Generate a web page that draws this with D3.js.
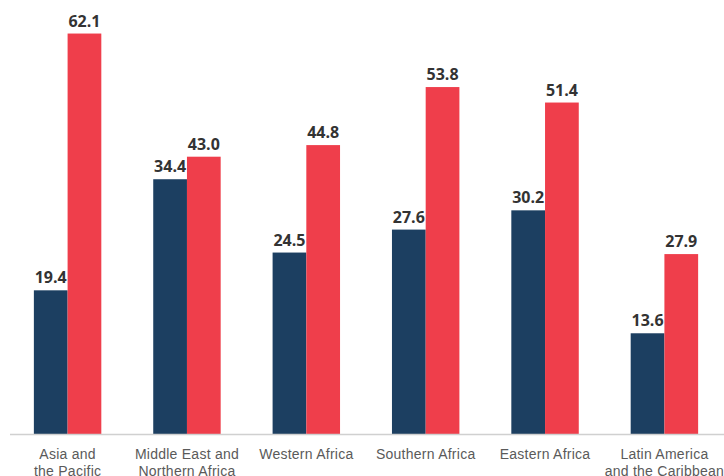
<!DOCTYPE html>
<html>
<head>
<meta charset="utf-8">
<script src="https://cdn.jsdelivr.net/npm/d3@7"></script>
<style>
  html, body { margin: 0; padding: 0; background: #fff; }
  svg { display: block; font-family: "Open Sans", sans-serif; }
</style>
</head>
<body>
<div id="chart"></div>
<script>
// data
const regions = [
  ["Asia and", "the Pacific"],
  ["Middle East and", "Northern Africa"],
  ["Western Africa"],
  ["Southern Africa"],
  ["Eastern Africa"],
  ["Latin America", "and the Caribbean"]
];
const seriesA = [19.4, 34.4, 24.5, 27.6, 30.2, 13.6];
const seriesB = [62.1, 43.0, 44.8, 53.8, 51.4, 27.9];

const width = 724;
const height = 476;
const baseY = 434;

const colorA = "#1c3f61";
const colorB = "#ef3e4b";

const svg = d3.select("#chart")
  .append("svg")
    .attr("width", width)
    .attr("height", height)
    .attr("viewBox", [0, 0, width, height]);

const keys = regions.map((d, i) => i);

const x = d3.scaleBand()
  .domain(keys)
  .range([10, 722])
  .paddingInner(0.435)
  .paddingOuter(0.2);

const xs = d3.scaleBand()
  .domain(["a", "b"])
  .range([0, x.bandwidth()]);

// the two series sit on separate (hidden) value axes
const yA = d3.scaleLinear().domain([0, 58.6]).range([baseY, 0]);
const yB = d3.scaleLinear().domain([0, 67.3]).range([baseY, 0]);

const groups = svg.append("g")
  .selectAll("g")
  .data(keys)
  .join("g")
    .attr("transform", d => `translate(${x(d)},0)`);

groups.append("rect")
  .attr("x", xs("a"))
  .attr("y", d => yA(seriesA[d]))
  .attr("width", xs.bandwidth())
  .attr("height", d => baseY - yA(seriesA[d]))
  .attr("fill", colorA);

groups.append("rect")
  .attr("x", xs("b"))
  .attr("y", d => yB(seriesB[d]))
  .attr("width", xs.bandwidth())
  .attr("height", d => baseY - yB(seriesB[d]))
  .attr("fill", colorB);

// value labels
groups.append("text")
  .attr("x", xs("a") + xs.bandwidth() / 2)
  .attr("y", d => yA(seriesA[d]) - 7)
  .attr("text-anchor", "middle")
  .attr("font-size", 16)
  .attr("font-weight", 700)
  .attr("fill", "#333")
  .text(d => seriesA[d].toFixed(1));

groups.append("text")
  .attr("x", xs("b") + xs.bandwidth() / 2)
  .attr("y", d => yB(seriesB[d]) - 7)
  .attr("text-anchor", "middle")
  .attr("font-size", 16)
  .attr("font-weight", 700)
  .attr("fill", "#333")
  .text(d => seriesB[d].toFixed(1));

// x axis
const xAxis = svg.append("g")
  .attr("transform", `translate(0,${baseY})`)
  .call(d3.axisBottom(x).tickSize(0).tickFormat(""));

xAxis.select(".domain")
  .attr("d", `M10,0.5H${width}`)
  .attr("stroke", "#d0d0d0")
  .attr("stroke-width", 1.5);

xAxis.selectAll(".tick text").remove();
xAxis.selectAll(".tick")
  .append("text")
    .attr("fill", "#5a5a5a")
    .attr("font-size", 14)
    .attr("letter-spacing", 0.25)
    .attr("text-anchor", "middle")
    .selectAll("tspan")
    .data(d => regions[d])
    .join("tspan")
      .attr("x", 0)
      .attr("y", (d, i) => 25 + i * 17)
      .text(d => d);
</script>
</body>
</html>
